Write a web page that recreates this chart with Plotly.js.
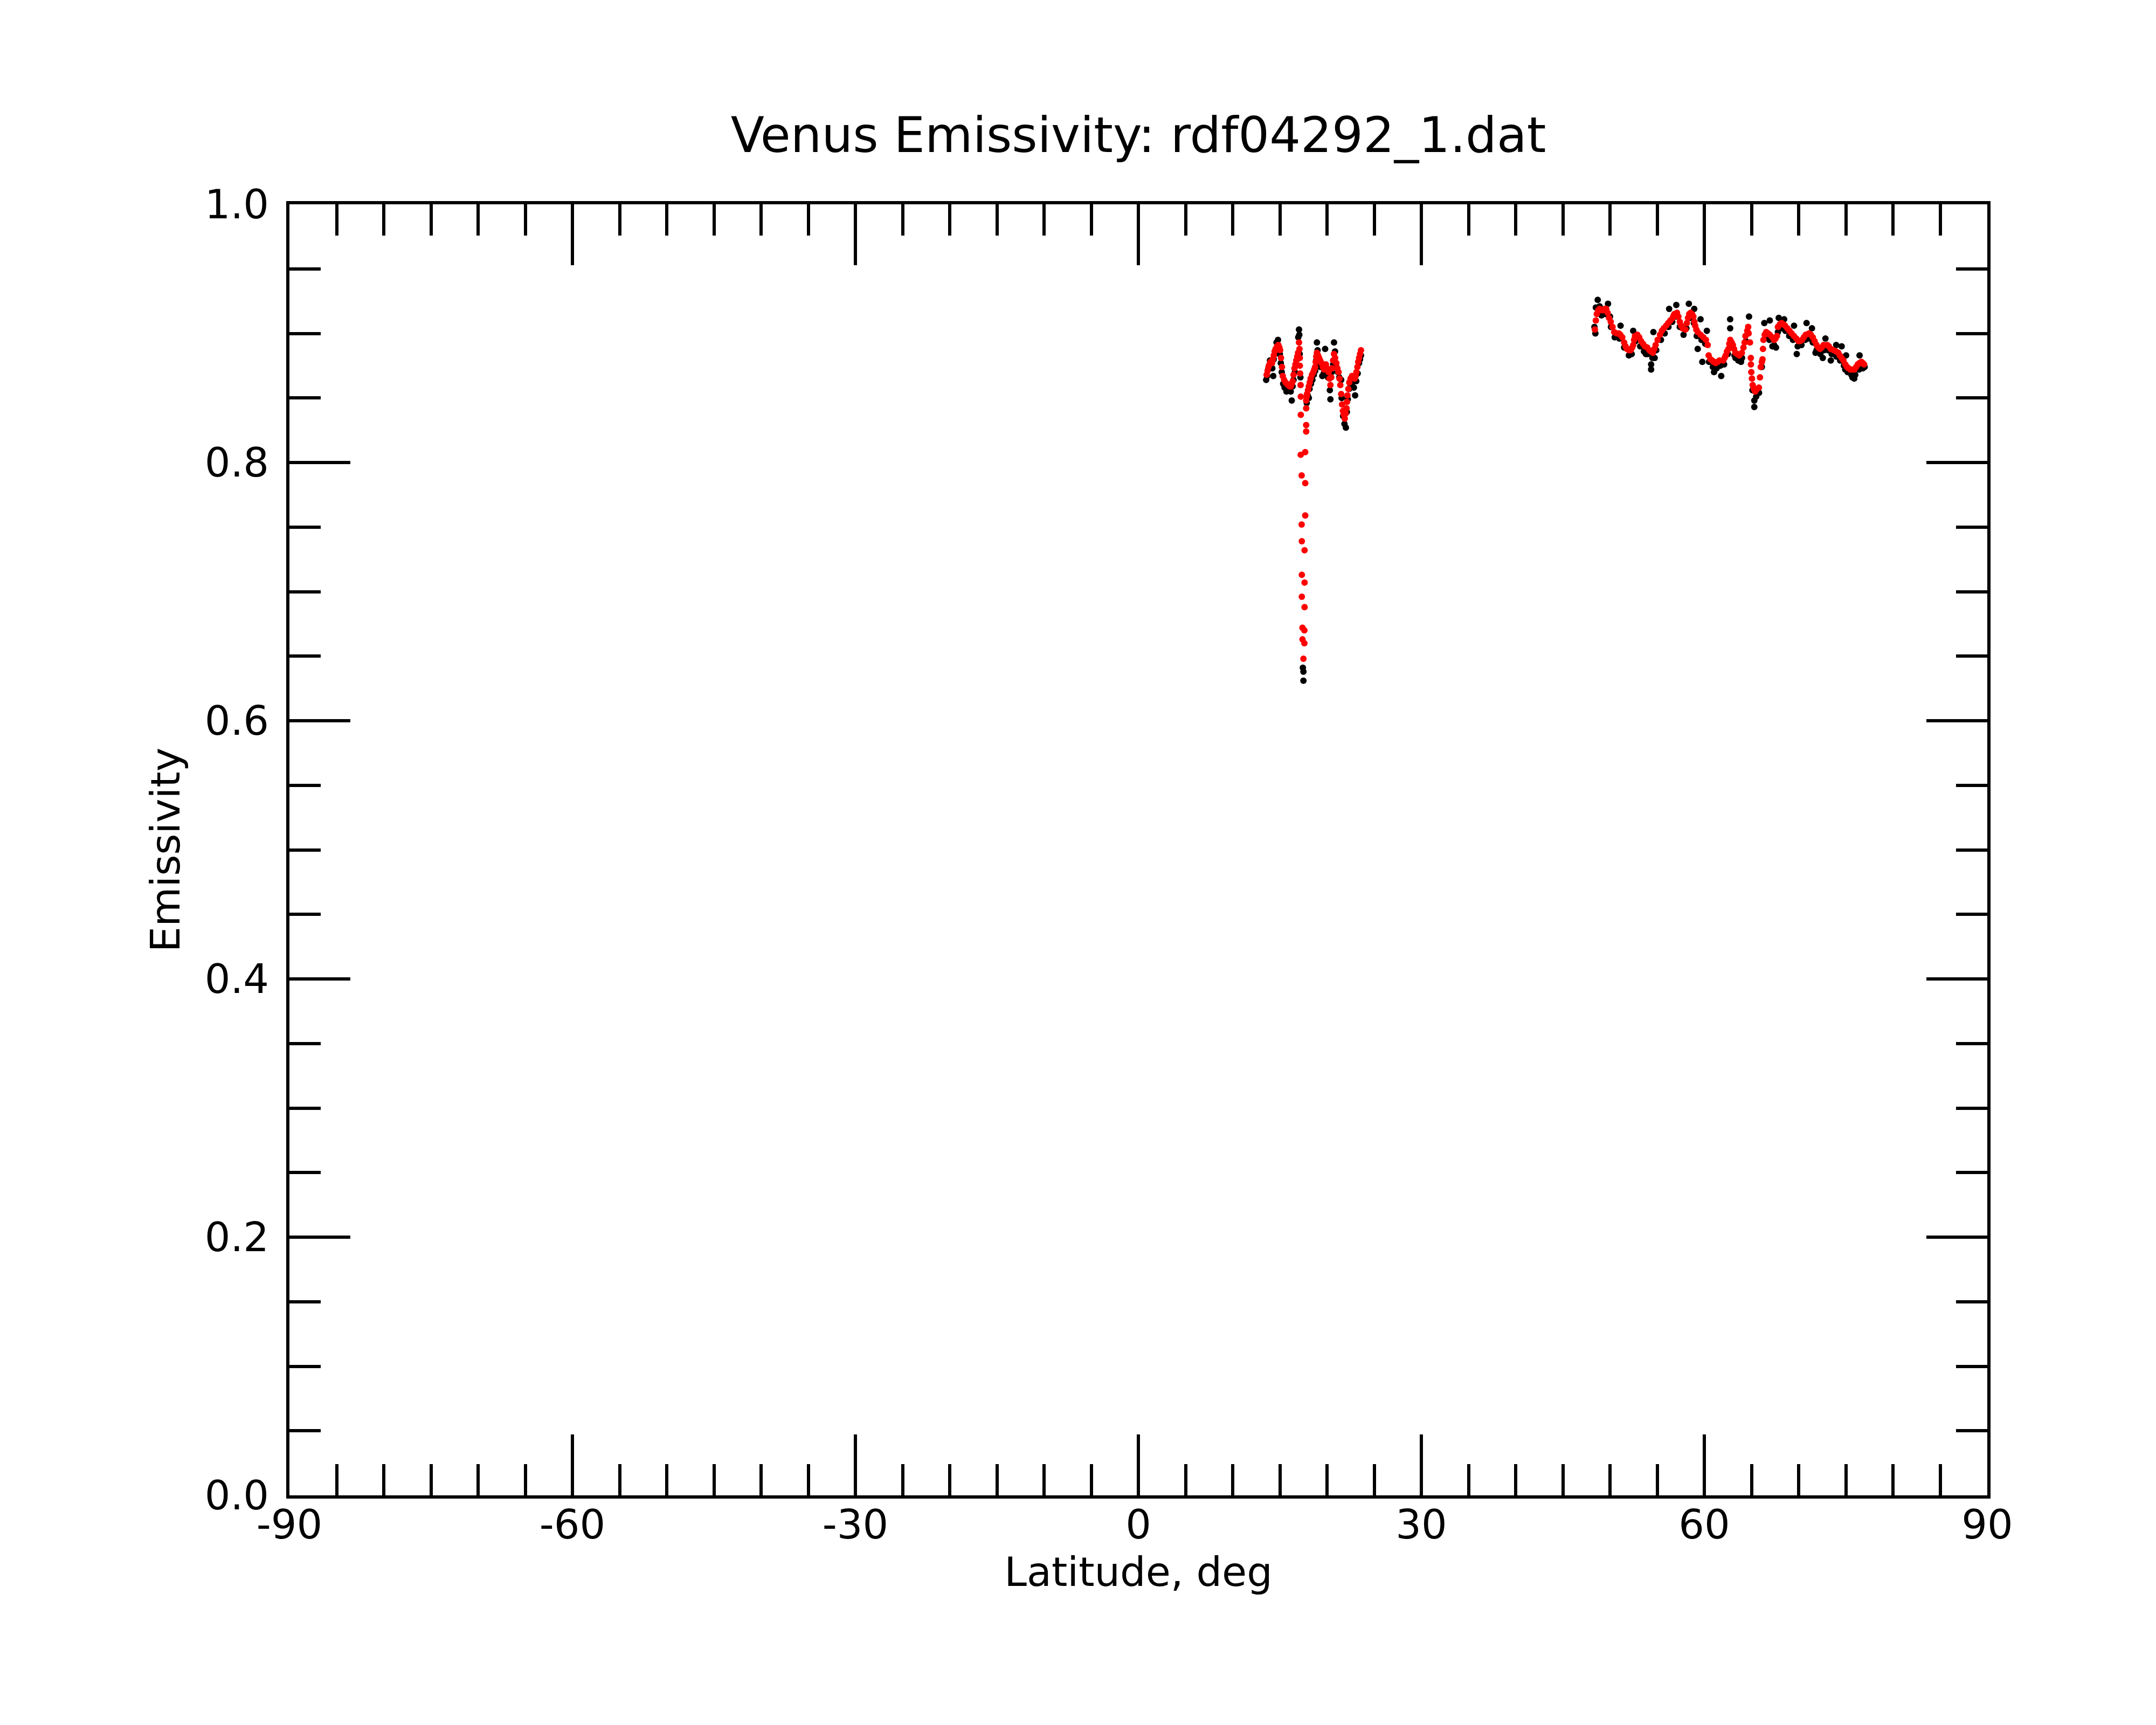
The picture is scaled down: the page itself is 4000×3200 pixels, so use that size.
<!DOCTYPE html>
<html>
<head>
<meta charset="utf-8">
<script src="https://cdn.plot.ly/plotly-3.0.1.min.js"></script>
<style>html,body{margin:0;padding:0;background:#fff;}#chart{width:4000px;height:3200px;}</style>
</head>
<body>
<div id="chart"></div>
<script>
// Red series (latitude, emissivity)
const latRed = [
13.6,13.7,13.8,13.9,14.0,14.1,14.17,14.26,14.36,14.45,14.55,14.7,14.84,14.95,15.03,15.12,15.22,15.31,15.45,15.6,15.75,15.88,16.03,16.17,16.27,16.36,16.45,16.55,16.65,16.74,16.84,16.93,17.03,17.08,17.12,17.12,17.15,17.20,17.22,17.79,17.22,17.79,17.79,17.69,17.21,17.31,17.69,17.69,17.31,17.33,17.62,17.33,17.62,17.33,17.62,17.40,17.60,17.40,17.60,17.50,
17.79,17.84,17.88,17.98,18.07,18.17,18.26,18.40,18.55,18.65,18.74,18.80,18.86,18.93,19.05,19.16,19.28,19.41,19.55,19.69,19.78,19.88,20.02,20.17,20.26,20.36,20.45,20.55,20.65,20.74,20.86,20.99,21.10,21.22,21.32,21.41,21.50,21.60,21.69,21.78,21.88,21.98,22.07,22.12,22.17,22.26,22.36,22.50,22.65,22.80,22.93,23.03,23.12,23.22,23.31,23.40,23.50,23.60,
48.4,48.5,48.6,48.75,48.9,49.1,49.3,49.45,49.6,49.75,49.9,50.08,50.27,50.45,50.7,50.93,51.1,51.3,51.5,51.65,51.8,52.0,52.2,52.35,52.46,52.55,52.65,52.9,53.1,53.3,53.5,53.7,53.95,54.17,54.35,54.55,54.7,54.84,55.05,55.3,55.5,55.7,55.95,56.17,56.4,56.65,56.75,56.84,57.1,57.25,57.4,57.55,57.7,58.0,58.15,58.27,58.4,58.55,58.7,58.84,58.95,59.03,59.15,59.3,59.6,59.9,60.17,60.36,60.46,60.65,60.84,61.0,61.2,61.4,61.6,62.0,62.15,62.27,62.4,62.55,62.65,62.75,62.9,63.03,63.15,63.3,63.5,63.7,63.98,64.15,64.27,64.36,64.55,64.65,64.7,64.84,64.93,64.94,64.98,65.05,65.13,65.25,65.4,65.6,65.79,65.9,65.98,66.1,66.17,66.22,66.27,66.4,66.56,66.75,66.94,67.2,67.4,67.55,67.7,67.8,68.0,68.2,68.4,68.56,68.8,69.03,69.25,69.5,69.75,69.98,70.15,70.36,70.55,70.75,71.1,71.3,71.5,71.7,71.9,72.1,72.27,72.45,72.65,73.03,73.2,73.4,73.7,73.98,74.2,74.36,74.55,74.75,74.95,75.13,75.3,75.5,75.7,75.9,76.1,76.27,76.45,76.65,76.8,76.94
];
const emisRed = [
0.868,0.871,0.874,0.876,0.878,0.877,0.877,0.880,0.883,0.886,0.888,0.890,0.891,0.889,0.887,0.881,0.874,0.867,0.864,0.862,0.861,0.860,0.859,0.859,0.861,0.863,0.868,0.873,0.876,0.879,0.882,0.885,0.893,0.888,0.881,0.875,0.869,0.860,0.851,0.842,0.837,0.829,0.824,0.808,0.806,0.790,0.784,0.759,0.752,0.739,0.732,0.713,0.707,0.696,0.688,0.672,0.670,0.663,0.660,0.648,
0.848,0.851,0.853,0.856,0.859,0.862,0.865,0.868,0.870,0.872,0.874,0.878,0.882,0.885,0.883,0.881,0.879,0.877,0.874,0.872,0.874,0.876,0.873,0.870,0.865,0.860,0.866,0.873,0.879,0.884,0.881,0.877,0.873,0.870,0.865,0.860,0.853,0.845,0.840,0.837,0.834,0.838,0.842,0.847,0.852,0.857,0.862,0.865,0.867,0.866,0.865,0.867,0.870,0.874,0.878,0.881,0.884,0.887,
0.903,0.910,0.915,0.918,0.919,0.918,0.918,0.919,0.919,0.916,0.912,0.909,0.905,0.901,0.900,0.900,0.899,0.897,0.893,0.890,0.888,0.887,0.887,0.889,0.891,0.895,0.898,0.899,0.897,0.894,0.892,0.890,0.889,0.887,0.886,0.885,0.888,0.891,0.895,0.899,0.902,0.904,0.906,0.908,0.910,0.912,0.914,0.915,0.916,0.913,0.909,0.906,0.904,0.903,0.908,0.912,0.915,0.916,0.915,0.913,0.909,0.906,0.903,0.901,0.899,0.897,0.895,0.891,0.883,0.880,0.879,0.878,0.877,0.878,0.879,0.879,0.881,0.883,0.886,0.888,0.892,0.895,0.893,0.891,0.888,0.885,0.884,0.883,0.885,0.889,0.893,0.898,0.902,0.905,0.900,0.893,0.881,0.876,0.870,0.865,0.860,0.857,0.855,0.857,0.858,0.866,0.874,0.878,0.880,0.888,0.895,0.899,0.901,0.900,0.899,0.897,0.895,0.896,0.898,0.905,0.907,0.908,0.907,0.906,0.904,0.902,0.900,0.898,0.896,0.894,0.894,0.895,0.897,0.899,0.900,0.899,0.897,0.894,0.891,0.889,0.888,0.889,0.891,0.891,0.890,0.888,0.887,0.886,0.885,0.883,0.881,0.879,0.876,0.874,0.873,0.872,0.872,0.872,0.874,0.876,0.877,0.878,0.877,0.876
];
// Black series (latitude, emissivity)
const latBlack = [
13.55,13.65,13.75,13.85,13.95,14.05,14.2,14.3,14.35,14.5,14.65,14.8,14.9,15.0,15.1,15.2,15.35,15.5,15.7,15.85,16.0,16.15,16.26,16.35,16.45,16.6,16.7,16.85,16.95,17.03,17.06,17.1,17.18,17.44,17.50,17.50,
17.85,17.95,18.07,18.15,18.3,18.45,18.6,18.75,18.85,18.93,19.0,19.15,19.3,19.5,19.65,19.8,19.9,20.1,20.3,20.36,20.5,20.65,20.74,20.85,21.0,21.15,21.3,21.5,21.55,21.7,21.85,22.0,22.1,22.2,22.35,22.5,22.7,22.85,22.98,23.1,23.25,23.4,23.5,23.6,
48.35,48.5,48.7,48.9,49.1,49.79,50.0,51.12,52.46,54.6,54.36,54.36,53.8,54.74,56.27,57.03,58.36,58.93,59.6,60.27,59.3,59.79,61.03,61.79,62.74,62.74,63.3,63.89,64.74,65.3,65.3,
66.36,66.94,67.89,68.46,69.51,67.22,67.6,69.8,70.84,71.41,71.79,72.56,72.84,73.41,73.98,74.56,75.03,74.94,75.7,75.89,76.46,
48.45,49.0,49.5,50.1,50.5,51.0,51.5,52.0,52.3,52.7,53.2,53.6,54.0,54.5,54.9,55.4,55.8,56.2,56.6,57.0,57.4,57.8,58.1,58.5,58.9,59.2,59.7,60.1,60.5,60.9,61.3,61.7,62.1,62.5,62.8,63.2,63.6,64.0,64.4,64.6,65.1,65.5,65.8,66.1,66.5,66.9,67.4,67.8,68.2,68.6,69.0,69.4,69.9,70.3,70.7,71.1,71.5,71.9,72.3,72.7,73.1,73.5,74.0,74.4,74.8,75.2,75.6,76.0,76.4,76.8,77.0
];
const emisBlack = [
0.864,0.867,0.872,0.875,0.879,0.874,0.873,0.867,0.880,0.884,0.893,0.895,0.887,0.884,0.877,0.870,0.861,0.858,0.855,0.857,0.856,0.855,0.848,0.859,0.864,0.870,0.876,0.880,0.897,0.903,0.899,0.884,0.866,0.641,0.638,0.631,
0.846,0.852,0.850,0.857,0.861,0.864,0.868,0.871,0.879,0.893,0.887,0.877,0.874,0.867,0.869,0.888,0.872,0.866,0.856,0.849,0.870,0.876,0.893,0.886,0.874,0.870,0.866,0.864,0.850,0.836,0.830,0.827,0.839,0.849,0.857,0.860,0.862,0.858,0.852,0.863,0.869,0.877,0.880,0.883,
0.905,0.920,0.926,0.921,0.914,0.923,0.913,0.906,0.902,0.901,0.876,0.872,0.884,0.881,0.919,0.922,0.923,0.919,0.911,0.902,0.888,0.878,0.870,0.867,0.911,0.904,0.881,0.878,0.913,0.848,0.843,
0.908,0.910,0.912,0.911,0.906,0.890,0.889,0.884,0.908,0.904,0.885,0.881,0.896,0.879,0.891,0.890,0.883,0.872,0.866,0.865,0.883,
0.900,0.915,0.915,0.905,0.897,0.896,0.889,0.883,0.884,0.894,0.890,0.886,0.884,0.881,0.887,0.895,0.900,0.905,0.909,0.913,0.905,0.899,0.904,0.912,0.908,0.898,0.895,0.892,0.878,0.874,0.873,0.875,0.876,0.884,0.891,0.883,0.879,0.881,0.894,0.900,0.856,0.851,0.854,0.874,0.897,0.895,0.891,0.901,0.904,0.902,0.898,0.895,0.890,0.891,0.895,0.896,0.893,0.887,0.884,0.887,0.887,0.884,0.882,0.879,0.875,0.870,0.868,0.868,0.872,0.873,0.874
];
// Tick labels
const xTickVals = [-90,-60,-30,0,30,60,90];
const xTickText = ['-90','-60','-30','0','30','60','90'];
const yTickVals = [0,0.2,0.4,0.6,0.8,1.0];
const yTickText = ['0.0','0.2','0.4','0.6','0.8','1.0'];
const titleText = 'Venus Emissivity: rdf04292_1.dat';
const xTitle = 'Latitude, deg';
const yTitle = 'Emissivity';

const FONT = 'DejaVu Sans, sans-serif';
const traces = [
  {x: latBlack, y: emisBlack, type: 'scatter', mode: 'markers',
   marker: {color: '#000000', size: 12, line: {width: 0}}, showlegend: false, hoverinfo: 'skip'},
  {x: latRed, y: emisRed, type: 'scatter', mode: 'markers',
   marker: {color: '#ff0000', size: 12, line: {width: 0}}, showlegend: false, hoverinfo: 'skip'}
];
const axisCommon = {
  showline: true, linecolor: '#000', linewidth: 6, mirror: 'allticks',
  ticks: 'inside', tickcolor: '#000', tickwidth: 6, ticklen: 113,
  showgrid: false, zeroline: false, tickmode: 'array',
  tickfont: {family: FONT, size: 75, color: '#000'}
};
const layout = {
  width: 4000, height: 3200,
  paper_bgcolor: '#fff', plot_bgcolor: '#fff',
  margin: {l: 537, r: 313, t: 379, b: 426, pad: 0},
  font: {family: FONT, color: '#000'},
  title: {text: titleText, font: {family: FONT, size: 91, color: '#000'},
          x: 0.5, xref: 'paper', y: 1 - 250/3200, yref: 'container', yanchor: 'middle'},
  xaxis: Object.assign({}, axisCommon, {
    range: [-90, 90], tickvals: xTickVals, ticktext: xTickText,
    minor: {dtick: 5, tick0: -90, ticks: 'inside', ticklen: 58, tickwidth: 6, tickcolor: '#000', showgrid: false},
    ticklabelstandoff: -16,
    title: {text: xTitle, font: {family: FONT, size: 75, color: '#000'}, standoff: 0}
  }),
  yaxis: Object.assign({}, axisCommon, {
    range: [0, 1], tickvals: yTickVals, ticktext: yTickText,
    minor: {dtick: 0.05, tick0: 0, ticks: 'inside', ticklen: 58, tickwidth: 6, tickcolor: '#000', showgrid: false},
    ticklabelstandoff: 17,
    title: {text: yTitle, font: {family: FONT, size: 75, color: '#000'}, standoff: 23}
  })
};
Plotly.newPlot('chart', traces, layout, {staticPlot: true, displayModeBar: false});
</script>
</body>
</html>
